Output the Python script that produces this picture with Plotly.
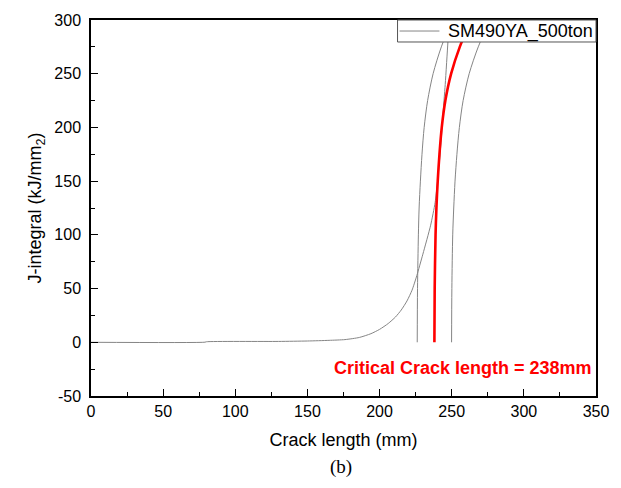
import plotly.graph_objects as go

# J-integral vs crack length for SM490YA, 500 ton load
crack_mm = [0, 79, 80, 130, 150, 165, 176, 186, 194, 200, 206, 211, 215,
            219, 222.5, 225.8, 230, 235.4, 238.5, 240.2, 241.6, 242.8, 243.8,
            245.5, 247.4, 248.4]
j_kj = [0, 0.1, 0.5, 0.8, 1.2, 1.8, 2.5, 4.5, 8.0, 12, 17.5, 23.5, 30,
        38.5, 48.5, 62, 82, 109, 130, 150, 170, 190, 210,
        240, 280, 300]

# critical crack length curve and its lower / upper bounds
band_j = [0, 50, 100, 125, 150, 175, 200, 225, 250, 275, 300]
critical_mm = [238.0, 238.2, 238.8, 239.4, 240.3, 241.5, 243.1, 245.6, 249.6, 255.6, 263.5]
lower_mm = [226.1, 226.3, 226.9, 227.4, 228.3, 229.4, 230.9, 233.3, 237.1, 242.8, 250.3]
upper_mm = [249.9, 250.1, 250.7, 251.4, 252.3, 253.6, 255.3, 257.9, 262.1, 268.4, 276.7]

x_ticks = [0, 50, 100, 150, 200, 250, 300, 350]
y_ticks = [-50, 0, 50, 100, 150, 200, 250, 300]

series_name = "SM490YA_500ton"

GRAY = "#858585"
FONT = "Liberation Sans, Arial, sans-serif"

fig = go.Figure()
fig.add_trace(go.Scatter(x=lower_mm, y=band_j, mode="lines",
                         line=dict(color=GRAY, width=1, shape="spline", smoothing=0.8),
                         showlegend=False))
fig.add_trace(go.Scatter(x=upper_mm, y=band_j, mode="lines",
                         line=dict(color=GRAY, width=1, shape="spline", smoothing=0.8),
                         showlegend=False))
fig.add_trace(go.Scatter(x=crack_mm, y=j_kj, mode="lines", name=series_name,
                         line=dict(color=GRAY, width=1, shape="spline", smoothing=0.6),
                         showlegend=False))
fig.add_trace(go.Scatter(x=critical_mm, y=band_j, mode="lines",
                         line=dict(color="#ff0000", width=2.6, shape="spline", smoothing=0.8),
                         showlegend=False))

axis_common = dict(
    showline=True, linecolor="black", linewidth=1.5, mirror=True,
    ticks="inside", ticklen=7, tickwidth=1.2, tickcolor="black",
    showgrid=False, zeroline=False,
    tickfont=dict(family=FONT, size=16, color="black"),
    minor=dict(ticks="inside", ticklen=4, tickwidth=1, tickcolor="black", dtick=25),
)

fig.update_xaxes(range=[0, 350], tickvals=x_ticks, ticktext=[str(v) for v in x_ticks],
                 title=dict(text="Crack length (mm)", font=dict(family=FONT, size=18, color="black"),
                            standoff=14),
                 **axis_common)
fig.update_yaxes(range=[-50, 300], tickvals=y_ticks, ticktext=[str(v) for v in y_ticks],
                 ticklabelstandoff=5,
                 title=dict(text="J-integral (kJ/mm<sub>2</sub>)",
                            font=dict(family=FONT, size=18, color="black"), standoff=8),
                 **axis_common)

# compact legend box in the top-right corner of the frame
fig.add_shape(type="rect", xref="paper", yref="paper", x0=0.607, x1=1.0, y0=0.9415, y1=1.0,
              line=dict(color="#555555", width=1), fillcolor="white", layer="above")
fig.add_shape(type="line", xref="paper", yref="paper", x0=0.611, x1=0.690, y0=0.9707, y1=0.9707,
              line=dict(color=GRAY, width=1), layer="above")
fig.add_annotation(text=series_name, xref="paper", yref="paper", x=0.998, y=0.9707,
                   xanchor="right", yanchor="middle", showarrow=False,
                   font=dict(family=FONT, size=18, color="black"))

fig.add_annotation(text="<b>Critical Crack length = 238mm</b>", xref="paper", yref="paper",
                   x=0.997, y=0.075, xanchor="right", yanchor="middle", showarrow=False,
                   font=dict(family=FONT, size=18, color="#ff0000"))
fig.add_annotation(text="(b)", xref="paper", yref="paper", x=0.495, y=-0.19,
                   xanchor="center", yanchor="middle", showarrow=False,
                   font=dict(family="Liberation Serif, Times New Roman, serif", size=19, color="black"))

fig.update_layout(
    width=621, height=488,
    margin=dict(l=91, r=21, t=20, b=92),
    paper_bgcolor="white", plot_bgcolor="white",
    showlegend=False,
)

fig.write_html("out.html")
